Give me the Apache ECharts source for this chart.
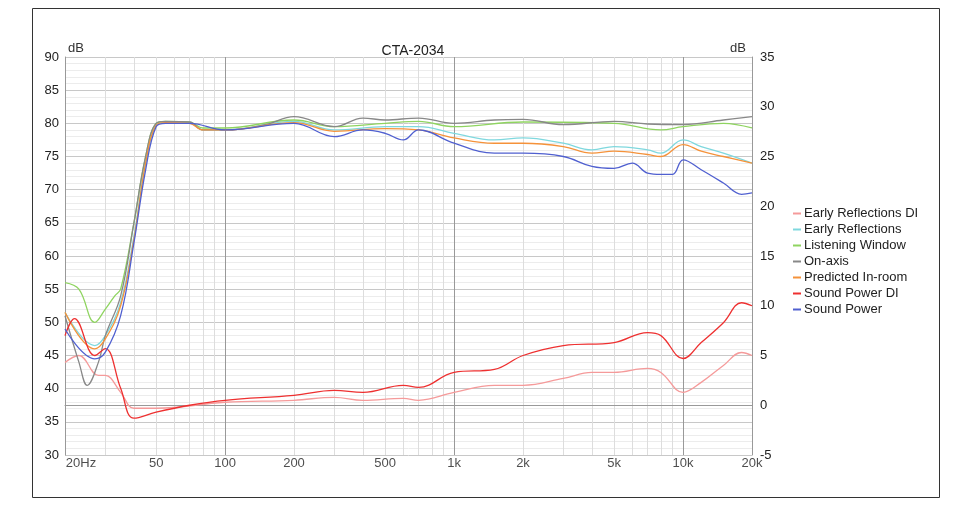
<!DOCTYPE html><html><head><meta charset="utf-8"><script src="https://cdn.jsdelivr.net/npm/echarts@6/dist/echarts.min.js"></script></head><body style="margin:0;background:#fff"><div id="c" style="width:956px;height:526px"></div><script>
const freqTicks=[20,50,100,200,500,1000,2000,5000,10000,20000];
const tickLabels=['20Hz','50','100','200','500','1k','2k','5k','10k','20k'];
const fOn=[20,23,25,28,30,35,40,45,50,55,70,80,100,150,200,300,400,500,700,1000,1500,2000,3000,5000,7000,10000,15000,20000];
const onAxis=[51,44,40.5,44,48,54,65,75,80,80.3,80.2,79,79,79.8,81,79.5,80.8,80.5,80.8,80,80.5,80.6,79.8,80.3,79.9,79.8,80.5,81];
const fLW=[20,23,27,30,33,35,40,45,50,55,70,80,100,200,300,500,700,1000,2000,5000,8000,10000,15000,20000];
const listening=[56,55,50,52,54,55,65,75,80,80.3,80.2,79.3,79.3,80.5,79.5,80,80.3,79.5,80.2,80,79,79.5,80,79.3];
const fER=[20,27,30,35,40,45,50,55,70,80,100,200,300,500,700,1000,1500,2000,3000,4000,5000,7000,8000,10000,12000,15000,20000];
const earlyRefl=[51.5,46.5,48,53,63,74,79.8,80.2,80.1,79,79,80.3,79,79.5,79.5,78.5,77.5,77.8,77,76,76.5,76,75.5,77.5,76.5,75.5,74];
const predicted=[51.5,46,47.5,52.5,62.5,74,79.7,80.1,80,79,79,80.1,78.8,79.2,79,77.8,77,77,76.5,75.5,75.8,75.3,75,76.8,75.8,75,74];
const fSP=[20,27,30,35,40,45,50,55,70,100,200,300,400,500,600,700,1000,1500,2000,3000,4000,5000,6000,7000,8000,9000,10000,12000,15000,18000,20000];
const soundPower=[49,44.5,45.5,51,62,73,79.5,80,80,79,80,78,79,78.5,77.5,79,77,75.5,75.5,75,73.5,73.2,74,72.5,72.3,72.3,74.5,73,71,69.3,69.5];
const fDI=[20,22,27,30,35,40,50,70,100,200,300,400,600,700,1000,1500,2000,3000,5000,7000,8000,10000,12000,15000,18000,20000];
const spDI=[7,8.7,5,5.7,1.7,-1.3,-0.7,0,0.5,1,1.5,1.3,2,1.8,3.3,3.6,5,6,6.3,7.3,7,4.7,6.3,8.3,10.3,10];
const fERDI=[20,23,28,30,35,40,50,100,200,300,400,600,700,1000,1500,2000,3000,4000,5000,7000,8000,10000,12000,15000,18000,20000];
const erDI=[4.3,5,3,3,1.3,-0.3,-0.3,0.3,0.5,0.8,0.5,0.7,0.5,1.3,2,2,2.7,3.3,3.3,3.7,3.3,1.3,2.3,4,5.3,5];
const z=(f,v)=>f.map((x,i)=>[x,v[i]]);
const mk=(name,f,v,color,ya)=>({name,type:'line',data:z(f,v),yAxisIndex:ya,smooth:0.4,showSymbol:false,symbol:'none',lineStyle:{color,width:1.3},itemStyle:{color},z:3});
const c=echarts.init(document.getElementById('c'));
c.setOption({animation:false,
title:{text:'CTA-2034',left:408,top:39,textStyle:{fontFamily:'Liberation Sans',fontSize:14,fontWeight:'normal',color:'#222'},textAlign:'center'},
graphic:[{type:'rect',shape:{x:32.5,y:8.5,width:907,height:489},style:{fill:'none',stroke:'#333',lineWidth:1}},
{type:'text',left:68,top:42,style:{text:'dB',font:'13px Liberation Sans',fill:'#333'}},
{type:'text',left:730,top:42,style:{text:'dB',font:'13px Liberation Sans',fill:'#333'}}],
legend:{orient:'vertical',left:788,top:202,itemWidth:8,itemHeight:2,itemGap:3,icon:'rect',textStyle:{fontFamily:'Liberation Sans',fontSize:13,color:'#222',padding:[0,0,0,-2]},
data:['Early Reflections DI','Early Reflections','Listening Window','On-axis','Predicted In-room','Sound Power DI','Sound Power']},
grid:{left:65,right:204,top:57,bottom:71},
xAxis:{type:'log',logBase:10,min:20,max:20000,axisLabel:{show:false},axisTick:{show:false},axisLine:{lineStyle:{color:'#999'}},
splitLine:{show:true,lineStyle:{color:'#999'}},minorTick:{show:false,splitNumber:9},minorSplitLine:{show:true,lineStyle:{color:'#ddd'}}},
yAxis:[{type:'value',min:30,max:90,interval:5,axisLine:{show:true,lineStyle:{color:'#999'}},axisTick:{show:false},axisLabel:{color:'#222',fontSize:13,fontFamily:'Liberation Sans',margin:6},
splitLine:{lineStyle:{color:'#c8c8c8'}},minorTick:{show:false,splitNumber:5},minorSplitLine:{show:true,lineStyle:{color:'#ececec'}}},
{type:'value',min:-5,max:35,interval:5,position:'right',axisLine:{show:true,lineStyle:{color:'#999'}},axisTick:{show:false},axisLabel:{color:'#222',fontSize:13,fontFamily:'Liberation Sans',margin:8},splitLine:{show:false}}],
series:[mk('Early Reflections DI',fERDI,erDI,'#f59a9a',1),mk('Early Reflections',fER,earlyRefl,'#7fd8de',0),mk('Listening Window',fLW,listening,'#8fd460',0),
mk('On-axis',fOn,onAxis,'#888888',0),mk('Predicted In-room',fER,predicted,'#f5923a',0),mk('Sound Power DI',fDI,spDI,'#ee3030',1),mk('Sound Power',fSP,soundPower,'#5060d0',0),
{type:'scatter',data:freqTicks.map((f,i)=>({value:[f,30],label:{formatter:tickLabels[i],offset:i===0?[16,0]:[0,0]}})),symbolSize:0,silent:true,yAxisIndex:0,
label:{show:true,position:'bottom',distance:2,color:'#222',fontSize:13,fontFamily:'Liberation Sans'},clip:false}]});
</script></body></html>
